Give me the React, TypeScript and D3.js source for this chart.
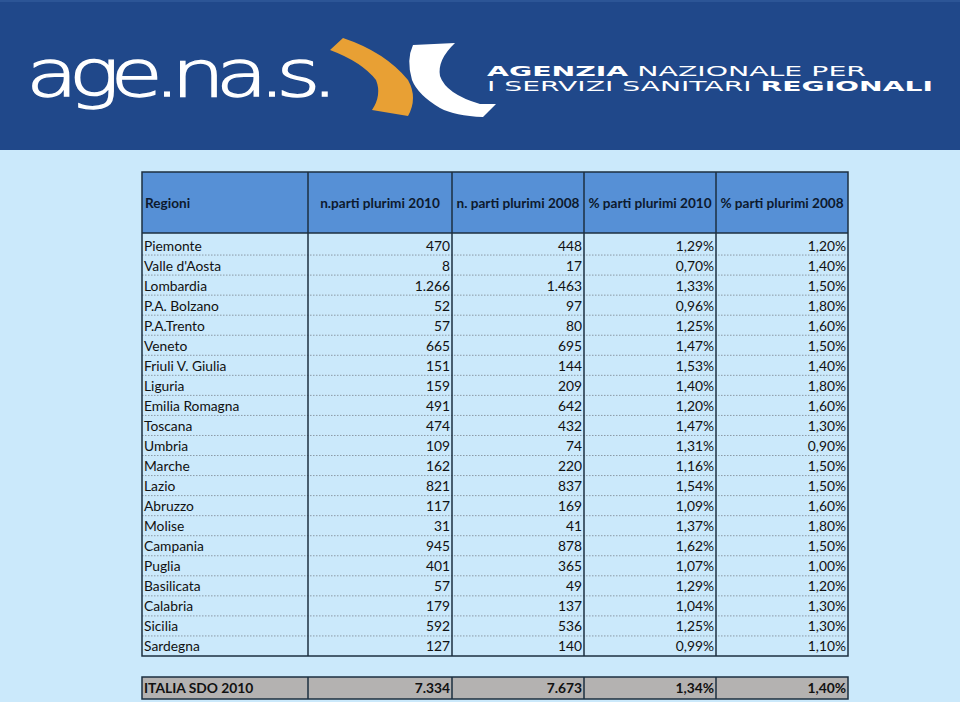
import React from "react";
import * as d3 from "d3";

const headers = ["Regioni", "n.parti plurimi 2010", "n. parti plurimi 2008", "% parti plurimi 2010", "% parti plurimi 2008"];
const regions = ["Piemonte", "Valle d'Aosta", "Lombardia", "P.A. Bolzano", "P.A.Trento", "Veneto", "Friuli V. Giulia", "Liguria", "Emilia Romagna", "Toscana", "Umbria", "Marche", "Lazio", "Abruzzo", "Molise", "Campania", "Puglia", "Basilicata", "Calabria", "Sicilia", "Sardegna"];
const parti2010 = [470, 8, 1266, 52, 57, 665, 151, 159, 491, 474, 109, 162, 821, 117, 31, 945, 401, 57, 179, 592, 127];
const parti2008 = [448, 17, 1463, 97, 80, 695, 144, 209, 642, 432, 74, 220, 837, 169, 41, 878, 365, 49, 137, 536, 140];
const perc2010 = [1.29, 0.70, 1.33, 0.96, 1.25, 1.47, 1.53, 1.40, 1.20, 1.47, 1.31, 1.16, 1.54, 1.09, 1.37, 1.62, 1.07, 1.29, 1.04, 1.25, 0.99];
const perc2008 = [1.20, 1.40, 1.50, 1.80, 1.60, 1.50, 1.40, 1.80, 1.60, 1.30, 0.90, 1.50, 1.50, 1.60, 1.80, 1.50, 1.00, 1.20, 1.30, 1.30, 1.10];
const totalLabel = "ITALIA SDO 2010";
const totals = [7334, 7673, 1.34, 1.40];

const locale = d3.formatLocale({ decimal: ",", thousands: ".", grouping: [3], currency: ["€", ""] });
const fmtInt = locale.format(",d");
const fmtPct = (v: number) => locale.format(".2f")(v) + "%";

const colX = [142, 308, 452, 584, 716, 848];
const FONT = "Lato, 'Open Sans', sans-serif";
const DARK = "#1c2f40";

export default function App() {
  const rowScale = d3.scaleBand<string>().domain(regions).range([235, 656]);
  const rows = regions.map((r, i) => [r, fmtInt(parti2010[i]), fmtInt(parti2008[i]), fmtPct(perc2010[i]), fmtPct(perc2008[i])]);
  const totalRow = [totalLabel, fmtInt(totals[0]), fmtInt(totals[1]), fmtPct(totals[2]), fmtPct(totals[3])];
  const bw = rowScale.bandwidth();

  return (
    <svg width={960} height={702} style={{ position: "absolute", left: 0, top: 0 }} xmlns="http://www.w3.org/2000/svg">
      <rect x={0} y={0} width={960} height={702} fill="#cbe9fb" />
      {/* banner */}
      <rect x={0} y={0} width={960} height={150} fill="#20488a" />
      <rect x={0} y={0} width={960} height={2} fill="#2c5596" />
      <text x={26} y={96} fill="#ffffff" stroke="#ffffff" strokeWidth={1.3} fontFamily="'DejaVu Sans', sans-serif" fontWeight={200} fontSize={64} letterSpacing={-7} textLength={303} lengthAdjust="spacingAndGlyphs">age.na.s.</text>
      <path d="M330,50 L343,38 Q385,52 408,80 Q418,98 408,116 L372,110 Q382,95 376,80 Q362,62 330,50 Z" fill="#e8a034" />
      <path d="M413,45 L455,43 Q437,60 440,76 Q446,94 480,104 L496,104 L483,117 Q455,116 440,108 Q418,95 412,80 Q406,60 413,45 Z" fill="#ffffff" />
      <text x={487} y={75.5} fill="#ffffff" fontFamily="'DejaVu Sans', sans-serif" fontSize={13.5} textLength={379} lengthAdjust="spacingAndGlyphs">
        <tspan fontWeight="bold">AGENZIA</tspan><tspan> NAZIONALE PER</tspan>
      </text>
      <text x={487} y={90.5} fill="#ffffff" fontFamily="'DejaVu Sans', sans-serif" fontSize={13.5} textLength={446} lengthAdjust="spacingAndGlyphs">
        <tspan>I SERVIZI SANITARI </tspan><tspan fontWeight="bold">REGIONALI</tspan>
      </text>

      {/* header */}
      <rect x={colX[0]} y={172} width={colX[5] - colX[0]} height={61} fill="#5690d6" />
      {headers.map((h, j) => (
        <text key={h} x={j === 0 ? colX[0] + 3 : (colX[j] + colX[j + 1]) / 2} y={208} textAnchor={j === 0 ? "start" : "middle"}
          fontFamily={FONT} fontWeight="bold" fontSize={13.6} fill="#0d1a2e">{h}</text>
      ))}

      {/* rows */}
      {rows.map((row, i) => {
        const y = rowScale(regions[i]) as number;
        return (
          <g key={regions[i]}>
            {i < rows.length - 1 && (
              <line x1={colX[0]} x2={colX[5]} y1={y + bw} y2={y + bw} stroke="#8c9aa6" strokeWidth={1} strokeDasharray="1.5,1.5" />
            )}
            {row.map((c, j) => (
              <text key={j} x={j === 0 ? colX[0] + 2 : colX[j + 1] - 2} y={y + bw / 2 + 5.5} textAnchor={j === 0 ? "start" : "end"}
                fontFamily={FONT} fontSize={13.8} fill="#111">{c}</text>
            ))}
          </g>
        );
      })}
      {/* grid */}
      <rect x={colX[0]} y={172} width={colX[5] - colX[0]} height={656 - 172} fill="none" stroke={DARK} strokeWidth={1.5} />
      <line x1={colX[0]} x2={colX[5]} y1={233} y2={233} stroke={DARK} strokeWidth={1.5} />
      {colX.slice(1, 5).map((x) => (
        <line key={x} x1={x} x2={x} y1={172} y2={656} stroke={DARK} strokeWidth={1.5} />
      ))}

      {/* total row */}
      <rect x={colX[0]} y={677} width={colX[5] - colX[0]} height={22} fill="#b4b2b1" stroke={DARK} strokeWidth={1.5} />
      {colX.slice(1, 5).map((x) => (
        <line key={"t" + x} x1={x} x2={x} y1={677} y2={699} stroke={DARK} strokeWidth={1.5} />
      ))}
      {totalRow.map((c, j) => (
        <text key={"tot" + j} x={j === 0 ? colX[0] + 2 : colX[j + 1] - 2} y={693} textAnchor={j === 0 ? "start" : "end"}
          fontFamily={FONT} fontWeight="bold" fontSize={13.8} fill="#111">{c}</text>
      ))}
    </svg>
  );
}
